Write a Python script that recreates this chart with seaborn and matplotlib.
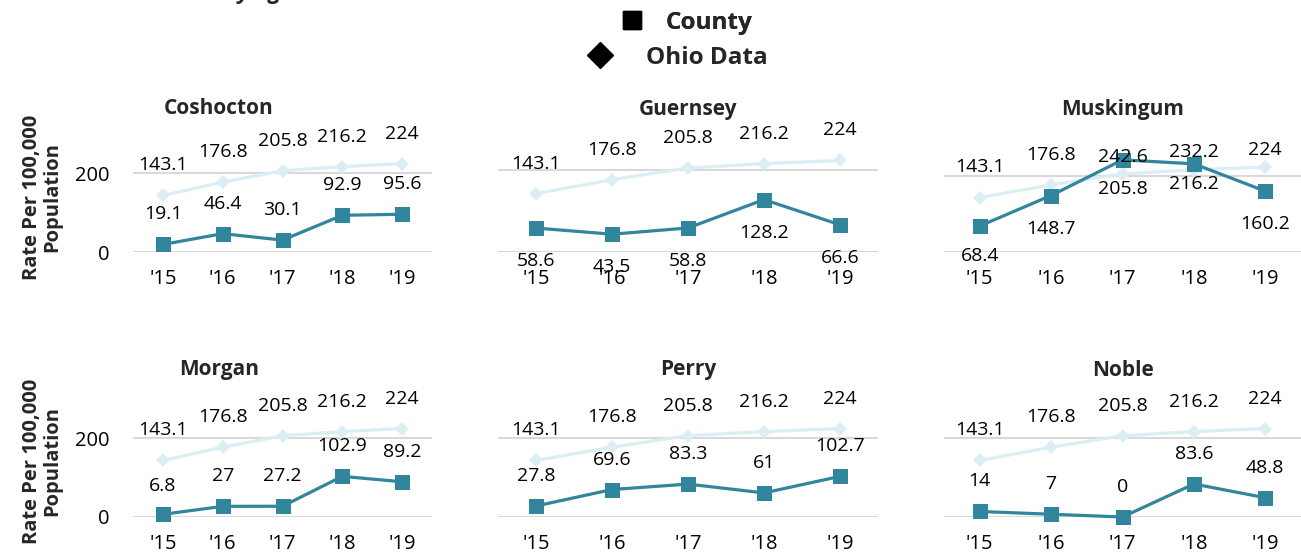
import matplotlib
matplotlib.use("Agg")
import matplotlib.pyplot as plt
from matplotlib.lines import Line2D
import seaborn as sns
import pandas as pd

# data
years = ["'15", "'16", "'17", "'18", "'19"]
ohio = [143.1, 176.8, 205.8, 216.2, 224]

counties = ["Coshocton", "Guernsey", "Muskingum", "Morgan", "Perry", "Noble"]
coshocton = [19.1, 46.4, 30.1, 92.9, 95.6]
guernsey = [58.6, 43.5, 58.8, 128.2, 66.6]
muskingum = [68.4, 148.7, 242.6, 232.2, 160.2]
morgan = [6.8, 27, 27.2, 102.9, 89.2]
perry = [27.8, 69.6, 83.3, 61, 102.7]
noble = [14, 7, 0, 83.6, 48.8]
county_values = [coshocton, guernsey, muskingum, morgan, perry, noble]

# label offsets in pixels (positive = above the point)
up, down = 30, -33
ohio_offsets = [
    [up] * 5,
    [up] * 5,
    [31, 30, -15, -14, 17],
    [up] * 5,
    [up] * 5,
    [up] * 5,
]
county_offsets = [
    [up] * 5,
    [down] * 5,
    [-30, -33, 3, 12, -33],
    [28, up, up, up, up],
    [up] * 5,
    [up] * 5,
]

county_color = "#31859C"
ohio_color = "#DAEEF3"
grid_color = "#D9D9D9"

sns.set_style("white")
plt.rcParams["font.family"] = ["Open Sans", "DejaVu Sans"]

W, H = 1301, 556
fig = plt.figure(figsize=(W / 100, H / 100), dpi=100)

# panel geometry in pixels
col_left = [133, 498, 944]
col_width = [299, 380, 357]
row_zero = [252, 517]
panel_h = 118.5
ymax = [[300, 290, 312], [300, 300, 300]]
title_x = [219, None, None]
title_y = [109, 370]
px = 72 / 100  # pixels -> points

for i, name in enumerate(counties):
    r, c = divmod(i, 3)
    ax = fig.add_axes([
        col_left[c] / W,
        1 - row_zero[r] / H,
        col_width[c] / W,
        panel_h / H,
    ])
    df = pd.DataFrame({"year": years, "ohio": ohio, "county": county_values[i]})

    sns.lineplot(data=df, x="year", y="ohio", ax=ax, color=ohio_color,
                 linewidth=2.3, marker="D", markersize=7.2,
                 markeredgewidth=0, clip_on=False, sort=False)
    sns.lineplot(data=df, x="year", y="county", ax=ax, color=county_color,
                 linewidth=2.3, marker="s", markersize=10.8,
                 markeredgewidth=0, clip_on=False, sort=False)

    for j, v in enumerate(ohio):
        ax.annotate(f"{v:g}", (j, v), xytext=(0, ohio_offsets[i][j] * px),
                    textcoords="offset points", ha="center", va="center",
                    fontsize=14, color="black", zorder=5, annotation_clip=False)
    for j, v in enumerate(county_values[i]):
        ax.annotate(f"{v:g}", (j, v), xytext=(0, county_offsets[i][j] * px),
                    textcoords="offset points", ha="center", va="center",
                    fontsize=14, color="black", zorder=5, annotation_clip=False)

    ax.set_xlim(-0.5, 4.5)
    ax.set_ylim(0, ymax[r][c])
    ax.set_yticks([0, 200])
    ax.grid(axis="y", color=grid_color, linewidth=1.5)
    ax.set_axisbelow(True)
    for s in ax.spines.values():
        s.set_visible(False)
    ax.tick_params(axis="both", length=0, labelsize=14.5, labelcolor="black")
    ax.tick_params(axis="y", pad=17)
    ax.tick_params(axis="x", pad=12)
    if c != 0:
        ax.set_yticklabels([])
    ax.set_xlabel("")
    ax.set_ylabel("")

    tx = title_x[c] if title_x[c] is not None else col_left[c] + col_width[c] / 2
    fig.text(tx / W, 1 - title_y[r] / H, name, ha="center", va="center",
             fontsize=15, fontweight="bold")

# shared y labels
for yc in [197, 461]:
    fig.text(42 / W, 1 - yc / H, "Rate Per 100,000\nPopulation", rotation=90,
             ha="center", va="center", multialignment="center",
             fontsize=14.5, fontweight="bold", linespacing=1.0)

# legend (two stacked entries, each centred)
sq = Line2D([], [], marker="s", color="black", linestyle="None", markersize=12.5)
dm = Line2D([], [], marker="D", color="black", linestyle="None", markersize=13)
leg1 = fig.legend([sq], ["County"], loc="center", bbox_to_anchor=(686 / W, 1 - 23 / H),
                  frameon=False, prop={"size": 17.5, "weight": "bold"},
                  handletextpad=0.9, handlelength=1.0)
fig.add_artist(leg1)
fig.legend([dm], ["Ohio Data"], loc="center", bbox_to_anchor=(678 / W, 1 - 58 / H),
           frameon=False, prop={"size": 17.5, "weight": "bold"},
           handletextpad=1.4, handlelength=1.0)

# chart title cut off above the canvas
fig.text(238 / W, 1 + 1 / H, "ying", ha="left", va="baseline",
         fontsize=16, fontweight="bold", fontstyle="italic")

fig.savefig("out.png", dpi=100)
